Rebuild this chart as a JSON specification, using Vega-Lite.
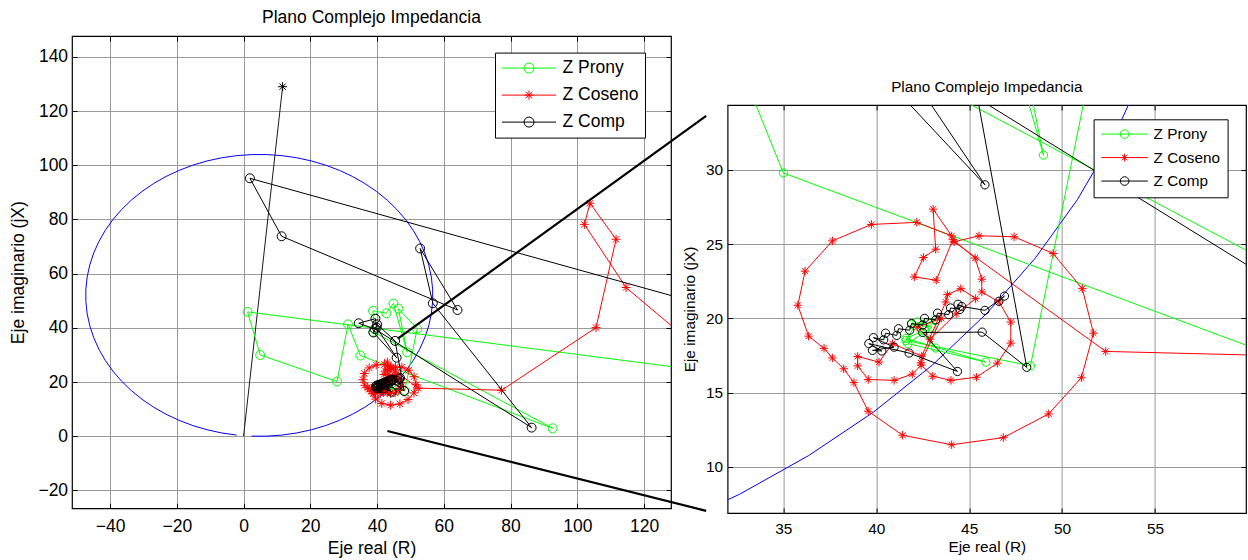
{
  "$schema": "https://vega.github.io/schema/vega-lite/v6.json",
  "padding": {"left": 9, "top": 8, "right": 0, "bottom": 0},
  "background": "white",
  "config": {
    "view": {"stroke": "black", "strokeWidth": 1.2},
    "font": "Liberation Sans",
    "axis": {"domain": false, "tickColor": "black", "labelColor": "black", "titleColor": "black", "titleFontWeight": "normal", "gridColor": "#999999", "gridWidth": 1, "gridOpacity": 1, "tickWidth": 1, "labelOverlap": false, "labelFlush": false, "labelFont": "Liberation Sans", "titleFont": "Liberation Sans"},
    "title": {"color": "black", "fontWeight": "normal", "font": "Liberation Sans", "frame": "group", "anchor": "middle"},
    "legend": {"labelFont": "Liberation Sans", "labelColor": "black"}
  },
  "datasets": {
    "circ": [
      {"k":0,"x":2.43,"y":0.05},{"k":1,"x":6.97,"y":0.05},{"k":2,"x":11.49,"y":0.45},{"k":3,"x":15.95,"y":1.23},{"k":4,"x":20.34,"y":2.41},{"k":5,"x":24.6,"y":3.96},{"k":6,"x":28.71,"y":5.88},{"k":7,"x":32.64,"y":8.14},{"k":8,"x":36.36,"y":10.75},{"k":9,"x":39.83,"y":13.66},{"k":10,"x":43.04,"y":16.87},{"k":11,"x":45.95,"y":20.34},{"k":12,"x":48.56,"y":24.06},{"k":13,"x":50.82,"y":27.99},{"k":14,"x":52.74,"y":32.1},{"k":15,"x":54.29,"y":36.36},{"k":16,"x":55.47,"y":40.75},{"k":17,"x":56.25,"y":45.21},{"k":18,"x":56.65,"y":49.73},{"k":19,"x":56.65,"y":54.27},{"k":20,"x":56.25,"y":58.79},{"k":21,"x":55.47,"y":63.25},{"k":22,"x":54.29,"y":67.64},{"k":23,"x":52.74,"y":71.9},{"k":24,"x":50.82,"y":76.01},{"k":25,"x":48.56,"y":79.94},{"k":26,"x":45.95,"y":83.66},{"k":27,"x":43.04,"y":87.13},{"k":28,"x":39.83,"y":90.34},{"k":29,"x":36.36,"y":93.25},{"k":30,"x":32.64,"y":95.86},{"k":31,"x":28.71,"y":98.12},{"k":32,"x":24.6,"y":100.04},{"k":33,"x":20.34,"y":101.59},{"k":34,"x":15.95,"y":102.77},{"k":35,"x":11.49,"y":103.55},{"k":36,"x":6.97,"y":103.95},{"k":37,"x":2.43,"y":103.95},{"k":38,"x":-2.09,"y":103.55},{"k":39,"x":-6.55,"y":102.77},{"k":40,"x":-10.94,"y":101.59},{"k":41,"x":-15.2,"y":100.04},{"k":42,"x":-19.31,"y":98.12},{"k":43,"x":-23.24,"y":95.86},{"k":44,"x":-26.96,"y":93.25},{"k":45,"x":-30.43,"y":90.34},{"k":46,"x":-33.64,"y":87.13},{"k":47,"x":-36.55,"y":83.66},{"k":48,"x":-39.16,"y":79.94},{"k":49,"x":-41.42,"y":76.01},{"k":50,"x":-43.34,"y":71.9},{"k":51,"x":-44.89,"y":67.64},{"k":52,"x":-46.07,"y":63.25},{"k":53,"x":-46.85,"y":58.79},{"k":54,"x":-47.25,"y":54.27},{"k":55,"x":-47.25,"y":49.73},{"k":56,"x":-46.85,"y":45.21},{"k":57,"x":-46.07,"y":40.75},{"k":58,"x":-44.89,"y":36.36},{"k":59,"x":-43.34,"y":32.1},{"k":60,"x":-41.42,"y":27.99},{"k":61,"x":-39.16,"y":24.06},{"k":62,"x":-36.55,"y":20.34},{"k":63,"x":-33.64,"y":16.87},{"k":64,"x":-30.43,"y":13.66},{"k":65,"x":-26.96,"y":10.75},{"k":66,"x":-23.24,"y":8.14},{"k":67,"x":-19.31,"y":5.88},{"k":68,"x":-15.2,"y":3.96},{"k":69,"x":-10.94,"y":2.41},{"k":70,"x":-6.55,"y":1.23},{"k":71,"x":-2.09,"y":0.45}
    ],
    "zl": [{"k":0,"x":0,"y":0},{"k":1,"x":11.7,"y":129}],
    "zm": [{"g":"a","k":0,"x":46.2,"y":36.0},{"g":"a","k":1,"x":138.6,"y":118.2},{"g":"b","k":0,"x":43.1,"y":1.96},{"g":"b","k":1,"x":138.6,"y":-27.5}],
    "traj": [
      {"s":"Z Prony","i":1,"x":160,"y":20.65},{"s":"Z Prony","i":2,"x":1.2,"y":45.9},{"s":"Z Prony","i":3,"x":5.0,"y":30.0},{"s":"Z Prony","i":4,"x":28.0,"y":20.2},{"s":"Z Prony","i":5,"x":31.3,"y":41.3},{"s":"Z Prony","i":6,"x":35.0,"y":29.8},{"s":"Z Prony","i":7,"x":92.6,"y":2.95},{"s":"Z Prony","i":8,"x":38.9,"y":38.5},{"s":"Z Prony","i":9,"x":38.8,"y":46.3},{"s":"Z Prony","i":10,"x":42.8,"y":45.4},{"s":"Z Prony","i":11,"x":44.9,"y":49.0},{"s":"Z Prony","i":12,"x":49.0,"y":31.0},{"s":"Z Prony","i":13,"x":46.4,"y":47.1},{"s":"Z Prony","i":14,"x":52.0,"y":39.7},{"s":"Z Prony","i":15,"x":48.3,"y":16.8},{"s":"Z Prony","i":16,"x":41.6,"y":18.5},{"s":"Z Prony","i":17,"x":42.2,"y":19.75},{"s":"Z Prony","i":18,"x":43.0,"y":19.4},{"s":"Z Prony","i":19,"x":41.7,"y":18.3},{"s":"Z Prony","i":20,"x":45.9,"y":17.05},{"s":"Z Prony","i":21,"x":41.6,"y":18.65},{"s":"Z Prony","i":22,"x":42.6,"y":19.2},{"s":"Z Prony","i":23,"x":43.2,"y":18.0},{"s":"Z Prony","i":24,"x":41.9,"y":19.6},{"s":"Z Prony","i":25,"x":42.5,"y":19.55},{"s":"Z Prony","i":26,"x":43.2,"y":19.9},{"s":"Z Prony","i":27,"x":42.8,"y":19.7},
      {"s":"Z Coseno","i":1,"x":140,"y":28.5},{"s":"Z Coseno","i":2,"x":114.6,"y":54.9},{"s":"Z Coseno","i":3,"x":102.1,"y":78.2},{"s":"Z Coseno","i":4,"x":103.8,"y":86.0},{"s":"Z Coseno","i":5,"x":111.6,"y":72.7},{"s":"Z Coseno","i":6,"x":105.6,"y":40.1},{"s":"Z Coseno","i":7,"x":77.3,"y":17.0},{"s":"Z Coseno","i":8,"x":52.35,"y":17.77},{"s":"Z Coseno","i":9,"x":44.19,"y":25.16},{"s":"Z Coseno","i":10,"x":45.53,"y":25.56},{"s":"Z Coseno","i":11,"x":47.42,"y":25.5},{"s":"Z Coseno","i":12,"x":49.52,"y":24.37},{"s":"Z Coseno","i":13,"x":51.09,"y":22.0},{"s":"Z Coseno","i":14,"x":51.69,"y":19.0},{"s":"Z Coseno","i":15,"x":51.04,"y":16.0},{"s":"Z Coseno","i":16,"x":49.28,"y":13.56},{"s":"Z Coseno","i":17,"x":46.84,"y":11.96},{"s":"Z Coseno","i":18,"x":44.06,"y":11.48},{"s":"Z Coseno","i":19,"x":41.42,"y":12.12},{"s":"Z Coseno","i":20,"x":39.57,"y":13.74},{"s":"Z Coseno","i":21,"x":38.8,"y":15.67},{"s":"Z Coseno","i":22,"x":38.25,"y":16.6},{"s":"Z Coseno","i":23,"x":37.64,"y":17.33},{"s":"Z Coseno","i":24,"x":37.19,"y":17.98},{"s":"Z Coseno","i":25,"x":36.36,"y":18.8},{"s":"Z Coseno","i":26,"x":35.78,"y":20.88},{"s":"Z Coseno","i":27,"x":36.17,"y":23.18},{"s":"Z Coseno","i":28,"x":37.64,"y":25.22},{"s":"Z Coseno","i":29,"x":39.74,"y":26.33},{"s":"Z Coseno","i":30,"x":42.18,"y":26.47},{"s":"Z Coseno","i":31,"x":44.06,"y":25.56},{"s":"Z Coseno","i":32,"x":43.06,"y":27.36},{"s":"Z Coseno","i":33,"x":43.2,"y":24.66},{"s":"Z Coseno","i":34,"x":42.54,"y":24.1},{"s":"Z Coseno","i":35,"x":42.05,"y":22.79},{"s":"Z Coseno","i":36,"x":43.23,"y":22.57},{"s":"Z Coseno","i":37,"x":44.12,"y":25.3},{"s":"Z Coseno","i":38,"x":45.32,"y":24.07},{"s":"Z Coseno","i":39,"x":45.68,"y":22.64},{"s":"Z Coseno","i":40,"x":45.68,"y":21.78},{"s":"Z Coseno","i":41,"x":46.61,"y":21.1},{"s":"Z Coseno","i":42,"x":47.24,"y":19.75},{"s":"Z Coseno","i":43,"x":47.24,"y":18.33},{"s":"Z Coseno","i":44,"x":46.52,"y":16.98},{"s":"Z Coseno","i":45,"x":45.39,"y":16.03},{"s":"Z Coseno","i":46,"x":44.02,"y":15.82},{"s":"Z Coseno","i":47,"x":43.04,"y":16.1},{"s":"Z Coseno","i":48,"x":42.42,"y":16.85},{"s":"Z Coseno","i":49,"x":41.94,"y":16.24},{"s":"Z Coseno","i":50,"x":40.96,"y":15.82},{"s":"Z Coseno","i":51,"x":39.57,"y":15.88},{"s":"Z Coseno","i":52,"x":39.0,"y":16.8},{"s":"Z Coseno","i":53,"x":39.0,"y":17.43},{"s":"Z Coseno","i":54,"x":40.15,"y":17.05},{"s":"Z Coseno","i":55,"x":40.87,"y":18.29},{"s":"Z Coseno","i":56,"x":42.45,"y":17.45},{"s":"Z Coseno","i":57,"x":43.74,"y":21.1},{"s":"Z Coseno","i":58,"x":43.83,"y":21.6},{"s":"Z Coseno","i":59,"x":44.55,"y":22.0},{"s":"Z Coseno","i":60,"x":45.35,"y":21.33},{"s":"Z Coseno","i":61,"x":44.3,"y":20.3},{"s":"Z Coseno","i":62,"x":42.9,"y":18.6},{"s":"Z Coseno","i":63,"x":42.2,"y":19.4},{"s":"Z Coseno","i":64,"x":43.5,"y":20.0},{"s":"Z Coseno","i":65,"x":42.4,"y":17.0},
      {"s":"Z Comp","i":1,"x":160,"y":41.0},{"s":"Z Comp","i":2,"x":1.9,"y":95.2},{"s":"Z Comp","i":3,"x":11.4,"y":73.8},{"s":"Z Comp","i":4,"x":64.1,"y":46.6},{"s":"Z Comp","i":5,"x":52.9,"y":69.3},{"s":"Z Comp","i":6,"x":56.7,"y":49.1},{"s":"Z Comp","i":7,"x":86.3,"y":3.2},{"s":"Z Comp","i":8,"x":39.3,"y":39.6},{"s":"Z Comp","i":9,"x":34.5,"y":41.7},{"s":"Z Comp","i":10,"x":39.5,"y":43.4},{"s":"Z Comp","i":11,"x":39.9,"y":40.1},{"s":"Z Comp","i":12,"x":45.85,"y":29.0},{"s":"Z Comp","i":13,"x":38.9,"y":38.3},{"s":"Z Comp","i":14,"x":40.0,"y":41.3},{"s":"Z Comp","i":15,"x":45.4,"y":35.2},{"s":"Z Comp","i":16,"x":48.1,"y":16.7},{"s":"Z Comp","i":17,"x":45.7,"y":19.07},{"s":"Z Comp","i":18,"x":42.5,"y":19.05},{"s":"Z Comp","i":19,"x":44.37,"y":16.42},{"s":"Z Comp","i":20,"x":41.77,"y":17.66},{"s":"Z Comp","i":21,"x":39.6,"y":18.3},{"s":"Z Comp","i":22,"x":40.3,"y":17.8},{"s":"Z Comp","i":23,"x":39.8,"y":17.84},{"s":"Z Comp","i":24,"x":40.96,"y":18.06},{"s":"Z Comp","i":25,"x":39.85,"y":18.7},{"s":"Z Comp","i":26,"x":40.4,"y":18.55},{"s":"Z Comp","i":27,"x":40.5,"y":19.0},{"s":"Z Comp","i":28,"x":41.1,"y":18.85},{"s":"Z Comp","i":29,"x":41.2,"y":19.3},{"s":"Z Comp","i":30,"x":41.8,"y":19.2},{"s":"Z Comp","i":31,"x":41.9,"y":19.65},{"s":"Z Comp","i":32,"x":42.5,"y":19.55},{"s":"Z Comp","i":33,"x":42.6,"y":20.0},{"s":"Z Comp","i":34,"x":43.2,"y":19.9},{"s":"Z Comp","i":35,"x":43.3,"y":20.35},{"s":"Z Comp","i":36,"x":43.9,"y":20.25},{"s":"Z Comp","i":37,"x":44.0,"y":20.7},{"s":"Z Comp","i":38,"x":44.5,"y":20.6},{"s":"Z Comp","i":39,"x":44.4,"y":20.95},{"s":"Z Comp","i":40,"x":44.6,"y":20.8},{"s":"Z Comp","i":41,"x":45.85,"y":20.54},{"s":"Z Comp","i":42,"x":46.9,"y":21.5},{"s":"Z Comp","i":43,"x":46.6,"y":21.15}
    ]
  },
  "bounds": "flush",
  "spacing": 56.6,
  "resolve": {"scale": {"color": "independent"}, "legend": {"color": "independent"}},
  "hconcat": [
    {
      "width": 599,
      "height": 472.3,
      "title": {"text": "Plano Complejo Impedancia", "fontSize": 17.5, "offset": 9},
      "resolve": {"axis": {"x": "independent", "y": "independent"}},
      "layer": [
        {
          "data": {"name": "circ"},
          "mark": {"type": "line", "color": "#0000ff", "strokeWidth": 1, "clip": true},
          "encoding": {
            "x": {"field": "x", "type": "quantitative", "scale": {"domain": [-51.4, 128.06], "nice": false, "zero": false},
                  "axis": {"orient": "bottom", "values": [-40, -20, 0, 20, 40, 60, 80, 100, 120], "grid": true, "tickSize": -5, "labelPadding": 14, "labelFontSize": 17.5, "title": "Eje real (R)", "titleFontSize": 17.5, "titlePadding": 5}},
            "y": {"field": "y", "type": "quantitative", "scale": {"domain": [-26.57, 147.7], "nice": false, "zero": false},
                  "axis": {"orient": "left", "values": [-20, 0, 20, 40, 60, 80, 100, 120, 140], "grid": true, "tickSize": -5, "labelPadding": 9.4, "labelFontSize": 17.5, "title": "Eje imaginario (jX)", "titleFontSize": 17.5, "titlePadding": 10}},
            "order": {"field": "k"}
          }
        },
        {
          "data": {"name": "zl"},
          "mark": {"type": "line", "color": "#1a1a1a", "strokeWidth": 1, "clip": true},
          "encoding": {
            "x": {"field": "x", "type": "quantitative", "axis": {"orient": "top", "values": [-40, -20, 0, 20, 40, 60, 80, 100, 120], "labels": false, "grid": false, "tickSize": -5, "title": null}},
            "y": {"field": "y", "type": "quantitative", "axis": {"orient": "right", "values": [-20, 0, 20, 40, 60, 80, 100, 120, 140], "labels": false, "grid": false, "tickSize": -5, "title": null}},
            "order": {"field": "k"}
          }
        },
        {
          "data": {"name": "zl"},
          "transform": [{"filter": "datum.k === 1"}],
          "mark": {"type": "point", "shape": "M-1,0H1M0,-1V1M-0.7,-0.7L0.7,0.7M-0.7,0.7L0.7,-0.7", "filled": false, "size": 81, "color": "black", "strokeWidth": 1, "opacity": 1, "clip": true},
          "encoding": {"x": {"field": "x", "type": "quantitative", "axis": null}, "y": {"field": "y", "type": "quantitative", "axis": null}}
        },
        {
          "data": {"name": "traj"},
          "transform": [{"filter": "datum.s === 'Z Prony'"}],
          "mark": {"type": "line", "strokeWidth": 1, "clip": true},
          "encoding": {
            "x": {"field": "x", "type": "quantitative", "axis": null}, "y": {"field": "y", "type": "quantitative", "axis": null}, "order": {"field": "i"},
            "color": {"field": "s", "type": "nominal", "scale": {"domain": ["Z Prony", "Z Coseno", "Z Comp"], "range": ["#00ff00", "#ff0000", "#000000"]},
              "legend": {"title": null, "orient": "none", "legendX": 423, "legendY": 16.6, "padding": 6.5, "rowPadding": 9, "clipHeight": 18, "strokeColor": "black", "fillColor": "white", "labelFontSize": 17.5, "labelOffset": 6, "symbolSize": 2916, "symbolStrokeWidth": 1, "labelLimit": 400,
                "encode": {"symbols": {"update": {
                  "shape": {"signal": "datum.value === 'Z Coseno' ? 'M-1,0H1M-0.17,0H0.17M0,-0.17V0.17M-0.12,-0.12L0.12,0.12M-0.12,0.12L0.12,-0.12' : 'M-1,0H1M-0.185,0A0.185,0.185 0 1,1 0.185,0A0.185,0.185 0 1,1 -0.185,0'"},
                  "stroke": {"signal": "datum.value === 'Z Prony' ? '#00ff00' : datum.value === 'Z Coseno' ? '#ff0000' : '#000000'"},
                  "fill": {"value": "transparent"}, "opacity": {"value": 1}, "strokeWidth": {"value": 1}}}}}}
          }
        },
        {
          "data": {"name": "traj"},
          "transform": [{"filter": "datum.s === 'Z Prony'"}],
          "mark": {"type": "point", "shape": "circle", "filled": false, "size": 80, "strokeWidth": 1, "opacity": 1, "clip": true},
          "encoding": {"x": {"field": "x", "type": "quantitative", "axis": null}, "y": {"field": "y", "type": "quantitative", "axis": null}, "color": {"field": "s", "type": "nominal"}}
        },
        {
          "data": {"name": "traj"},
          "transform": [{"filter": "datum.s === 'Z Coseno'"}],
          "mark": {"type": "line", "strokeWidth": 1, "clip": true},
          "encoding": {"x": {"field": "x", "type": "quantitative", "axis": null}, "y": {"field": "y", "type": "quantitative", "axis": null}, "order": {"field": "i"}, "color": {"field": "s", "type": "nominal"}}
        },
        {
          "data": {"name": "traj"},
          "transform": [{"filter": "datum.s === 'Z Coseno'"}],
          "mark": {"type": "point", "shape": "M-1,0H1M0,-1V1M-0.7,-0.7L0.7,0.7M-0.7,0.7L0.7,-0.7", "filled": false, "size": 81, "strokeWidth": 1, "opacity": 1, "clip": true},
          "encoding": {"x": {"field": "x", "type": "quantitative", "axis": null}, "y": {"field": "y", "type": "quantitative", "axis": null}, "color": {"field": "s", "type": "nominal"}}
        },
        {
          "data": {"name": "traj"},
          "transform": [{"filter": "datum.s === 'Z Comp'"}],
          "mark": {"type": "line", "strokeWidth": 1, "clip": true},
          "encoding": {"x": {"field": "x", "type": "quantitative", "axis": null}, "y": {"field": "y", "type": "quantitative", "axis": null}, "order": {"field": "i"}, "color": {"field": "s", "type": "nominal"}}
        },
        {
          "data": {"name": "traj"},
          "transform": [{"filter": "datum.s === 'Z Comp'"}],
          "mark": {"type": "point", "shape": "circle", "filled": false, "size": 80, "strokeWidth": 1, "opacity": 1, "clip": true},
          "encoding": {"x": {"field": "x", "type": "quantitative", "axis": null}, "y": {"field": "y", "type": "quantitative", "axis": null}, "color": {"field": "s", "type": "nominal"}}
        },
        {
          "data": {"name": "zm"},
          "mark": {"type": "line", "color": "black", "strokeWidth": 2.2, "clip": false},
          "encoding": {"x": {"field": "x", "type": "quantitative", "axis": null}, "y": {"field": "y", "type": "quantitative", "axis": null}, "detail": {"field": "g"}, "order": {"field": "k"}}
        }
      ]
    },
    {
      "bounds": "flush",
      "spacing": 20,
      "vconcat": [
        {
          "width": 518.4,
          "height": 48.3,
          "view": {"stroke": null},
          "data": {"values": [{"a": 1}]},
          "mark": {"type": "text", "text": ""}
        },
        {
          "width": 518.4,
          "height": 408,
          "title": {"text": "Plano Complejo Impedancia", "fontSize": 15.3, "offset": 9},
          "resolve": {"axis": {"x": "independent", "y": "independent"}},
          "layer": [
            {
              "data": {"name": "circ"},
              "mark": {"type": "line", "color": "#0000ff", "strokeWidth": 1, "clip": true},
              "encoding": {
                "x": {"field": "x", "type": "quantitative", "scale": {"domain": [32, 59.9], "nice": false, "zero": false},
                      "axis": {"orient": "bottom", "values": [35, 40, 45, 50, 55], "grid": true, "tickSize": -5, "labelPadding": 13.6, "labelFontSize": 15.4, "title": "Eje real (R)", "titleFontSize": 15.4, "titlePadding": 2}},
                "y": {"field": "y", "type": "quantitative", "scale": {"domain": [6.88, 34.38], "nice": false, "zero": false},
                      "axis": {"orient": "left", "values": [10, 15, 20, 25, 30], "grid": true, "tickSize": -5, "labelPadding": 10, "labelFontSize": 15.4, "title": "Eje imaginario (jX)", "titleFontSize": 15.4, "titlePadding": 8}},
                "order": {"field": "k"}
              }
            },
            {
              "data": {"name": "zl"},
              "mark": {"type": "line", "color": "#1a1a1a", "strokeWidth": 1, "clip": true},
              "encoding": {
                "x": {"field": "x", "type": "quantitative", "axis": {"orient": "top", "values": [35, 40, 45, 50, 55], "labels": false, "grid": false, "tickSize": -5, "title": null}},
                "y": {"field": "y", "type": "quantitative", "axis": {"orient": "right", "values": [10, 15, 20, 25, 30], "labels": false, "grid": false, "tickSize": -5, "title": null}},
                "order": {"field": "k"}
              }
            },
            {
              "data": {"name": "traj"},
              "transform": [{"filter": "datum.s === 'Z Prony'"}],
              "mark": {"type": "line", "strokeWidth": 1, "clip": true},
              "encoding": {
                "x": {"field": "x", "type": "quantitative", "axis": null}, "y": {"field": "y", "type": "quantitative", "axis": null}, "order": {"field": "i"},
                "color": {"field": "s", "type": "nominal", "scale": {"domain": ["Z Prony", "Z Coseno", "Z Comp"], "range": ["#00ff00", "#ff0000", "#000000"]},
                  "legend": {"title": null, "orient": "none", "legendX": 366, "legendY": 83.3, "padding": 7, "rowPadding": 6.5, "clipHeight": 15.5, "strokeColor": "black", "fillColor": "white", "labelFontSize": 15.3, "labelOffset": 5, "symbolSize": 2172, "symbolStrokeWidth": 1, "labelLimit": 400,
                    "encode": {"symbols": {"update": {
                      "shape": {"signal": "datum.value === 'Z Coseno' ? 'M-1,0H1M-0.17,0H0.17M0,-0.17V0.17M-0.12,-0.12L0.12,0.12M-0.12,0.12L0.12,-0.12' : 'M-1,0H1M-0.185,0A0.185,0.185 0 1,1 0.185,0A0.185,0.185 0 1,1 -0.185,0'"},
                      "stroke": {"signal": "datum.value === 'Z Prony' ? '#00ff00' : datum.value === 'Z Coseno' ? '#ff0000' : '#000000'"},
                      "fill": {"value": "transparent"}, "opacity": {"value": 1}, "strokeWidth": {"value": 1}}}}}}
              }
            },
            {
              "data": {"name": "traj"},
              "transform": [{"filter": "datum.s === 'Z Prony'"}],
              "mark": {"type": "point", "shape": "circle", "filled": false, "size": 68, "strokeWidth": 1, "opacity": 1, "clip": true},
              "encoding": {"x": {"field": "x", "type": "quantitative", "axis": null}, "y": {"field": "y", "type": "quantitative", "axis": null}, "color": {"field": "s", "type": "nominal"}}
            },
            {
              "data": {"name": "traj"},
              "transform": [{"filter": "datum.s === 'Z Coseno'"}],
              "mark": {"type": "line", "strokeWidth": 1, "clip": true},
              "encoding": {"x": {"field": "x", "type": "quantitative", "axis": null}, "y": {"field": "y", "type": "quantitative", "axis": null}, "order": {"field": "i"}, "color": {"field": "s", "type": "nominal"}}
            },
            {
              "data": {"name": "traj"},
              "transform": [{"filter": "datum.s === 'Z Coseno'"}],
              "mark": {"type": "point", "shape": "M-1,0H1M0,-1V1M-0.7,-0.7L0.7,0.7M-0.7,0.7L0.7,-0.7", "filled": false, "size": 72, "strokeWidth": 1, "opacity": 1, "clip": true},
              "encoding": {"x": {"field": "x", "type": "quantitative", "axis": null}, "y": {"field": "y", "type": "quantitative", "axis": null}, "color": {"field": "s", "type": "nominal"}}
            },
            {
              "data": {"name": "traj"},
              "transform": [{"filter": "datum.s === 'Z Comp'"}],
              "mark": {"type": "line", "strokeWidth": 1, "clip": true},
              "encoding": {"x": {"field": "x", "type": "quantitative", "axis": null}, "y": {"field": "y", "type": "quantitative", "axis": null}, "order": {"field": "i"}, "color": {"field": "s", "type": "nominal"}}
            },
            {
              "data": {"name": "traj"},
              "transform": [{"filter": "datum.s === 'Z Comp'"}],
              "mark": {"type": "point", "shape": "circle", "filled": false, "size": 68, "strokeWidth": 1, "opacity": 1, "clip": true},
              "encoding": {"x": {"field": "x", "type": "quantitative", "axis": null}, "y": {"field": "y", "type": "quantitative", "axis": null}, "color": {"field": "s", "type": "nominal"}}
            }
          ]
        }
      ]
    }
  ]
}
